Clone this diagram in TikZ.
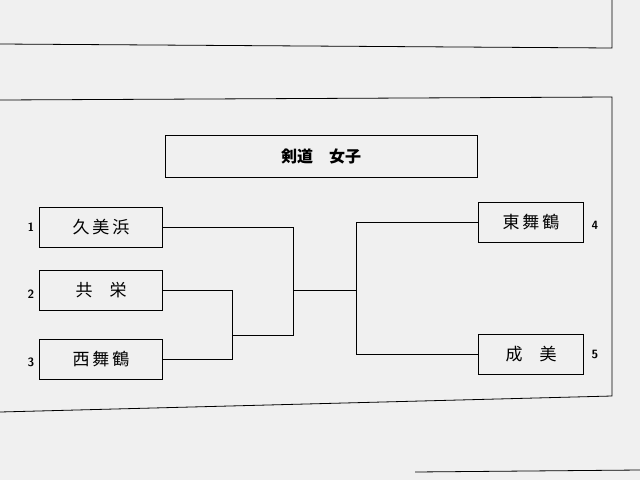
\documentclass[tikz,border=0pt]{standalone}
\usepackage{fontspec}
\newfontfamily\cjk{Noto Sans CJK JP}
\begin{document}
\begin{tikzpicture}[x=1pt,y=-1pt,
  team/.style={draw,thick,minimum width=123pt,minimum height=40pt,font=\cjk\fontsize{17}{17}\selectfont},
  rteam/.style={team,minimum width=105pt},
  num/.style={font=\sffamily\bfseries\fontsize{12}{12}\selectfont},
  ln/.style={thick}]
\fill[black!6] (0,0) rectangle (640,480);
\useasboundingbox (0,0) rectangle (640,480);
\draw[ln] (0,44) -- (612,48) -- (612,0);
\draw[ln] (0,100) -- (612,97) -- (612,396) -- (0,412);
\draw[ln] (415,472) -- (640,470);
\node[team,minimum width=312pt,minimum height=42pt,font=\cjk\bfseries\fontsize{16}{16}\selectfont] (title) at (321,156) {剣道\quad 女子};
\node[team] (a) at (101,227) {久\,美\,浜};
\node[team] (b) at (101,290) {共\quad 栄};
\node[team] (c) at (101,359) {西\,舞\,鶴};
\node[rteam] (d) at (531,222) {東\,舞\,鶴};
\node[rteam] (e) at (531,354) {成\quad 美};
\node[num] (n1) at (31,227) {1};
\node[num] (n2) at (31,294) {2};
\node[num] (n3) at (31,362) {3};
\node[num] (n4) at (595,225) {4};
\node[num] (n5) at (595,354) {5};
\coordinate (j1) at (232,335);
\coordinate (c1) at (293,290);
\coordinate (c2) at (356,290);
\draw[ln] (b.east) -| (232,359) -- (c.east);
\draw[ln] (a.east) -| (293,335) -- (j1);
\draw[ln] (c1) -- (c2);
\draw[ln] (d.west) -| (356,354) -- (e.west);
\end{tikzpicture}
\end{document}
